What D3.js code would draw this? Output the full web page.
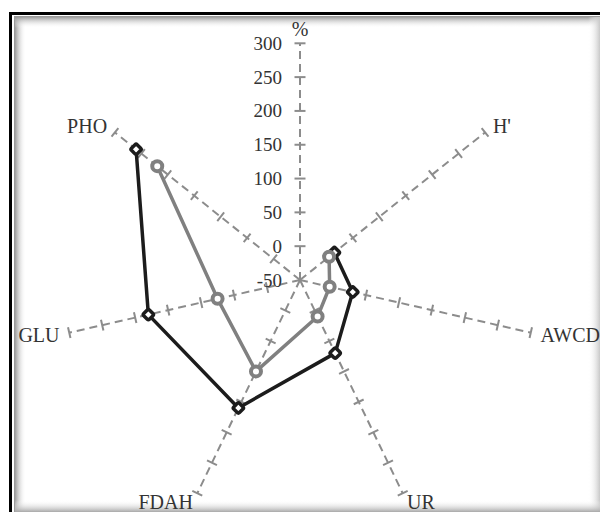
<!DOCTYPE html>
<html><head><meta charset="utf-8">
<script src="https://cdn.jsdelivr.net/npm/d3@7"></script>
<style>html,body{margin:0;padding:0;background:#fff;}svg{display:block;}</style>
</head><body>
<svg id="c" width="600" height="512"></svg>
<script>
// ---- data ----
const axes = ["%", "H'", "AWCD", "UR", "FDAH", "GLU", "PHO"];
const tickValues = [-50, 0, 50, 100, 150, 200, 250, 300];
const seriesNames = ["black", "gray"];
// values on axes H', AWCD, UR, FDAH, GLU, PHO (the "%" axis carries the scale only)
const dataAxes = ["H'", "AWCD", "UR", "FDAH", "GLU", "PHO"];
const blackValues = [15, 30, 70, 160, 180, 260];
const grayValues = [5, -5, 10, 100, 75, 220];

const svg = d3.select("#c");
const W = 600, H = 512;
const cx = 300, cy = 280;
const r = d3.scaleLinear().domain([-50, 300]).range([0, 236.7]);
const angle = d3.scalePoint().domain(axes.concat(["__end"])).range([0, 2 * Math.PI]);
const pt = (ax, v) => {
  const a = angle(ax), rr = r(v);
  return [cx + rr * Math.sin(a), cy - rr * Math.cos(a)];
};

// ---- frame ----
const defs = svg.append("defs");
function grad(id, x1, y1, x2, y2, c1) {
  const g = defs.append("linearGradient").attr("id", id)
    .attr("x1", x1).attr("y1", y1).attr("x2", x2).attr("y2", y2);
  g.append("stop").attr("offset", 0).attr("stop-color", c1);
  g.append("stop").attr("offset", 1).attr("stop-color", "#fff").attr("stop-opacity", 0);
}
grad("gl", 0, 0, 1, 0, "#8a8a8a");
grad("gt", 0, 0, 0, 1, "#8a8a8a");
grad("gr", 1, 0, 0, 0, "#c8c8c8");
grad("gb", 0, 1, 0, 0, "#a8a8a8");
svg.append("rect").attr("x", 0).attr("y", 0).attr("width", W).attr("height", H).attr("fill", "#fff");
svg.append("rect").attr("x", 14).attr("y", 16).attr("width", 12).attr("height", H).attr("fill", "url(#gl)");
svg.append("rect").attr("x", 14).attr("y", 16).attr("width", W).attr("height", 12).attr("fill", "url(#gt)");
svg.append("rect").attr("x", 588).attr("y", 16).attr("width", 12).attr("height", H).attr("fill", "url(#gr)");
svg.append("rect").attr("x", 14).attr("y", 500).attr("width", W).attr("height", 12).attr("fill", "url(#gb)");
svg.append("path").attr("d", `M14.5,${H}V16.5H${W}`).attr("fill", "none").attr("stroke", "#9a9a9a").attr("stroke-width", 1);
svg.append("path").attr("d", `M10.5,${H}V13.5H${W}`).attr("fill", "none").attr("stroke", "#000").attr("stroke-width", 3);

// ---- axes ----
const gAx = svg.append("g");
axes.forEach(ax => {
  const [x2, y2] = pt(ax, 300);
  gAx.append("line").attr("x1", cx).attr("y1", cy).attr("x2", x2).attr("y2", y2)
    .attr("stroke", "#8c8c8c").attr("stroke-width", 2).attr("stroke-dasharray", "8,5");
  const a = angle(ax);
  const px = Math.cos(a), py = Math.sin(a); // perpendicular direction
  tickValues.filter(v => v > -50).forEach(v => {
    const [tx, ty] = pt(ax, v);
    gAx.append("line")
      .attr("x1", tx - px * 5.5).attr("y1", ty - py * 5.5)
      .attr("x2", tx + px * 5.5).attr("y2", ty + py * 5.5)
      .attr("stroke", "#8c8c8c").attr("stroke-width", 2);
  });
  // axis name
  const [lx, ly] = pt(ax, 300);
  const dx = Math.sin(a), dy = -Math.cos(a);
  const s = Math.abs(dx) < 0.01 ? "middle" : (dx > 0 ? "start" : "end");
  gAx.append("text")
    .attr("x", lx + dx * 10).attr("y", ly + dy * 10 + (ax === "%" ? -4 : 0))
    .attr("text-anchor", s).attr("dominant-baseline", "central")
    .attr("font-family", "Liberation Serif, serif").attr("font-size", 20)
    .attr("fill", "#333").text(ax);
});

// tick labels on the "%" axis
svg.append("g").selectAll("text").data(tickValues).join("text")
  .attr("x", 282).attr("y", d => pt("%", d)[1])
  .attr("text-anchor", "end").attr("dominant-baseline", "central")
  .attr("font-family", "Liberation Serif, serif").attr("font-size", 19)
  .attr("fill", "#333").text(d => d);

// ---- series ----
const line = d3.line();
const series = [
  { name: seriesNames[1], values: grayValues, color: "#808080", marker: "circle" },
  { name: seriesNames[0], values: blackValues, color: "#1c1c1c", marker: "diamond" }
];
// draw black behind gray? In reference gray markers sit over black at H'
const order = [series[1], series[0]];
order.forEach(s => {
  const pts = dataAxes.map((ax, i) => pt(ax, s.values[i]));
  svg.append("path").attr("d", line(pts)).attr("fill", "none")
    .attr("stroke", s.color).attr("stroke-width", 3.5).attr("stroke-linejoin", "round");
});
order.forEach(s => {
  const pts = dataAxes.map((ax, i) => pt(ax, s.values[i]));
  const g = svg.append("g");
  pts.forEach(([x, y]) => {
    if (s.marker === "circle") {
      g.append("circle").attr("cx", x).attr("cy", y).attr("r", 5)
        .attr("fill", "#fff").attr("stroke", s.color).attr("stroke-width", 4);
    } else {
      g.append("rect").attr("x", -4).attr("y", -4).attr("width", 8).attr("height", 8)
        .attr("rx", 1.5)
        .attr("transform", `translate(${x},${y}) rotate(45)`)
        .attr("fill", "#fff").attr("stroke", s.color).attr("stroke-width", 3.5);
    }
  });
});
</script>
</body></html>
